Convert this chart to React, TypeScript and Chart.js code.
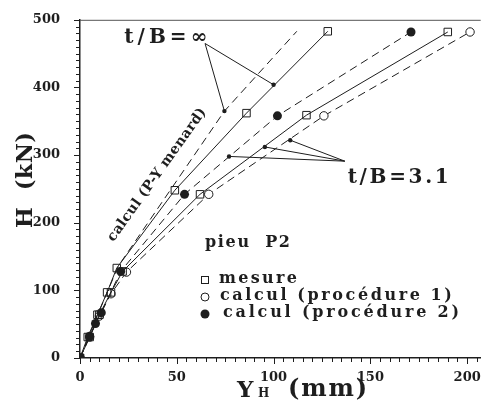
import React, { useEffect, useRef } from "react";
import { Chart, registerables } from "chart.js";
Chart.register(...registerables);

// P-Y Menard calculation (dashed, t/B = ∞)
const pyMenardX = [0, 9, 19.8, 74.6, 112];
const pyMenardY = [0, 63, 136, 365, 483];
// measurement, curve A (steeper)
const mesureAX = [0, 4, 9, 14, 19, 49, 86, 128];
const mesureAY = [0, 31, 64, 97, 133, 248, 362, 483];
// measurement, curve B
const mesureBX = [0, 5, 10, 16, 22, 62, 117, 190];
const mesureBY = [0, 31, 64, 97, 128, 242, 359, 482];
// calcul (procédure 2) filled circles
const proc2X = [0, 5, 8, 11, 21, 54, 102, 171];
const proc2Y = [0, 32, 51, 67, 128, 242, 358, 482];
// calcul (procédure 1) open circles
const proc1X = [0, 5, 10, 16, 24, 66.5, 126, 201.5];
const proc1Y = [0, 31, 62, 95, 127, 242, 358, 482];
// annotation dots
const dotsX = [74.6, 100, 77, 95.5, 108.6];
const dotsY = [365, 404, 298, 312, 322];
const apexInf = { x: 64.6, y: 465 };
const apexT31 = { x: 136.8, y: 291 };

const xTicks = [0, 50, 100, 150, 200];
const yTicks = [0, 100, 200, 300, 400, 500];

const INK = "#1e1e1e";
const SERIF = "'DejaVu Serif', 'Liberation Serif', serif";

const pts = (xs: number[], ys: number[]) => xs.map((x, i) => ({ x, y: ys[i] }));

function fitText(ctx: any, text: string, x: number, y: number, width: number, font: string, align = "left") {
  ctx.save();
  ctx.font = font;
  ctx.letterSpacing = "0px";
  const natural = ctx.measureText(text).width;
  const n = Math.max(1, text.length - 1);
  const sp = (width - natural) / n;
  ctx.letterSpacing = sp.toFixed(2) + "px";
  ctx.textBaseline = "middle";
  ctx.textAlign = "left";
  const start = align === "center" ? x - width / 2 : x;
  ctx.fillText(text, start, y);
  ctx.restore();
}

const overlay = {
  id: "overlay",
  afterDraw(chart: any) {
    const ctx = chart.ctx;
    const xs = chart.scales.x;
    const ys = chart.scales.y;
    const area = chart.chartArea;
    const px = (v: number) => xs.getPixelForValue(v);
    const py = (v: number) => ys.getPixelForValue(v);
    ctx.save();
    ctx.fillStyle = INK;
    ctx.strokeStyle = INK;

    // top border
    ctx.lineWidth = 1;
    ctx.strokeStyle = "#555";
    ctx.beginPath();
    ctx.moveTo(area.left, area.top + 0.5);
    ctx.lineTo(area.right, area.top + 0.5);
    ctx.stroke();
    ctx.strokeStyle = INK;

    // minor / major ticks
    ctx.lineWidth = 1;
    for (let v = 0; v <= 500; v += 10) {
      const y = Math.round(py(v)) + 0.5;
      const len = v % 100 === 0 ? 6 : 4;
      ctx.beginPath();
      ctx.moveTo(area.left - len, y);
      ctx.lineTo(area.left, y);
      ctx.stroke();
    }
    for (let v = 0; v <= 205; v += 5) {
      const x = Math.round(px(v)) + 0.5;
      const len = v % 50 === 0 ? 6 : 4;
      ctx.beginPath();
      ctx.moveTo(x, area.bottom);
      ctx.lineTo(x, area.bottom + len);
      ctx.stroke();
    }

    // annotation leader lines
    ctx.lineWidth = 1;
    const lead = (ap: any, i: number) => {
      ctx.beginPath();
      ctx.moveTo(px(ap.x), py(ap.y));
      ctx.lineTo(px(dotsX[i]), py(dotsY[i]));
      ctx.stroke();
    };
    lead(apexInf, 0);
    lead(apexInf, 1);
    lead(apexT31, 2);
    lead(apexT31, 3);
    lead(apexT31, 4);

    // annotation texts
    fitText(ctx, "t/B=∞", px(22.9), py(474), 83, `bold 20px ${SERIF}`);
    fitText(ctx, "t/B=3.1", px(138.3), py(266), 101, `bold 20px ${SERIF}`);

    // rotated label along the P-Y line
    ctx.save();
    ctx.translate(157, 175);
    ctx.rotate((-54.5 * Math.PI) / 180);
    fitText(ctx, "calcul (P-Y menard)", 0, 0, 160, `bold 14px ${SERIF}`, "center");
    ctx.restore();

    // pieu P2
    fitText(ctx, "pieu  P2", 205, 243, 85, `bold 16px ${SERIF}`);

    // legend
    const lf = `bold 16px ${SERIF}`;
    ctx.lineWidth = 1;
    ctx.strokeRect(201.5, 276.5, 7, 7);
    ctx.beginPath();
    ctx.arc(205, 297, 4, 0, Math.PI * 2);
    ctx.stroke();
    ctx.beginPath();
    ctx.arc(205, 314, 4.5, 0, Math.PI * 2);
    ctx.fill();
    fitText(ctx, "mesure", 219, 279, 78, lf);
    fitText(ctx, "calcul (procédure 1)", 220, 296, 232, lf);
    fitText(ctx, "calcul (procédure 2)", 223, 313, 236, lf);

    // axis titles
    ctx.save();
    ctx.translate(26, 180);
    ctx.rotate(-Math.PI / 2);
    fitText(ctx, "H  (kN)", 0, 0, 96, `bold 22px ${SERIF}`, "center");
    ctx.restore();

    ctx.font = `bold 23px ${SERIF}`;
    ctx.textBaseline = "alphabetic";
    ctx.textAlign = "left";
    ctx.fillText("Y", 237, 397);
    ctx.font = `bold 12px ${SERIF}`;
    ctx.fillText("H", 258, 397);
    fitText(ctx, "(mm)", 288, 390, 79, `bold 24px ${SERIF}`);

    ctx.restore();
  },
};

export default function App() {
  const ref = useRef<HTMLCanvasElement>(null);
  useEffect(() => {
    document.body.style.margin = "0";
    const canvas = ref.current!;
    const chart = new Chart(canvas, {
      type: "scatter",
      data: {
        datasets: [
          {
            label: "calcul (P-Y menard)",
            data: pts(pyMenardX, pyMenardY),
            showLine: true,
            borderColor: INK,
            borderWidth: 1,
            borderDash: [8, 5],
            pointRadius: 0,
          },
          {
            label: "mesure A",
            data: pts(mesureAX, mesureAY),
            showLine: true,
            borderColor: INK,
            borderWidth: 1,
            pointStyle: "rect",
            pointRadius: 5.3,
            pointBorderWidth: 1,
            pointBorderColor: INK,
            pointBackgroundColor: "rgba(0,0,0,0)",
          },
          {
            label: "calcul (procédure 2)",
            data: pts(proc2X, proc2Y),
            showLine: true,
            borderColor: INK,
            borderWidth: 1,
            borderDash: [8, 5],
            pointStyle: "circle",
            pointRadius: 4.5,
            pointBorderWidth: 0,
            pointBackgroundColor: INK,
          },
          {
            label: "mesure B",
            data: pts(mesureBX, mesureBY),
            showLine: true,
            borderColor: INK,
            borderWidth: 1,
            pointStyle: "rect",
            pointRadius: 5.3,
            pointBorderWidth: 1,
            pointBorderColor: INK,
            pointBackgroundColor: "rgba(0,0,0,0)",
          },
          {
            label: "calcul (procédure 1)",
            data: pts(proc1X, proc1Y),
            showLine: true,
            borderColor: INK,
            borderWidth: 1,
            borderDash: [8, 5],
            pointStyle: "circle",
            pointRadius: 4.2,
            pointBorderWidth: 1,
            pointBorderColor: INK,
            pointBackgroundColor: "#ffffff",
          },
          {
            label: "dots",
            data: pts(dotsX, dotsY),
            showLine: false,
            pointStyle: "circle",
            pointRadius: 2.2,
            pointBorderWidth: 0,
            pointBackgroundColor: INK,
          },
        ],
      },
      options: {
        responsive: false,
        animation: false,
        layout: { padding: { top: 16, right: 0, left: 0, bottom: 0 } },
        plugins: { legend: { display: false }, tooltip: { enabled: false } },
        scales: {
          x: {
            type: "linear",
            min: 0,
            max: 207,
            afterFit: (s: any) => { s.height = 43; },
            afterBuildTicks: (s: any) => { s.ticks = xTicks.map((v) => ({ value: v })); },
            ticks: {
              padding: 4,
              color: INK,
              font: { family: SERIF, size: 13, weight: "bold" },
              maxRotation: 0,
            },
            grid: { display: false },
            border: { display: true, color: INK, width: 1.5 },
          },
          y: {
            type: "linear",
            min: 0,
            max: 500,
            afterFit: (s: any) => { s.width = 80; },
            afterBuildTicks: (s: any) => { s.ticks = yTicks.map((v) => ({ value: v })); },
            ticks: {
              padding: 12,
              color: INK,
              font: { family: SERIF, size: 13, weight: "bold" },
            },
            grid: { display: false },
            border: { display: true, color: INK, width: 1.5 },
          },
        },
      },
      plugins: [overlay],
    });
    return () => chart.destroy();
  }, []);
  return (
    <div style={{ width: 487, height: 401, background: "#fff" }}>
      <canvas ref={ref} width={487} height={401} style={{ display: "block" }} />
    </div>
  );
}
